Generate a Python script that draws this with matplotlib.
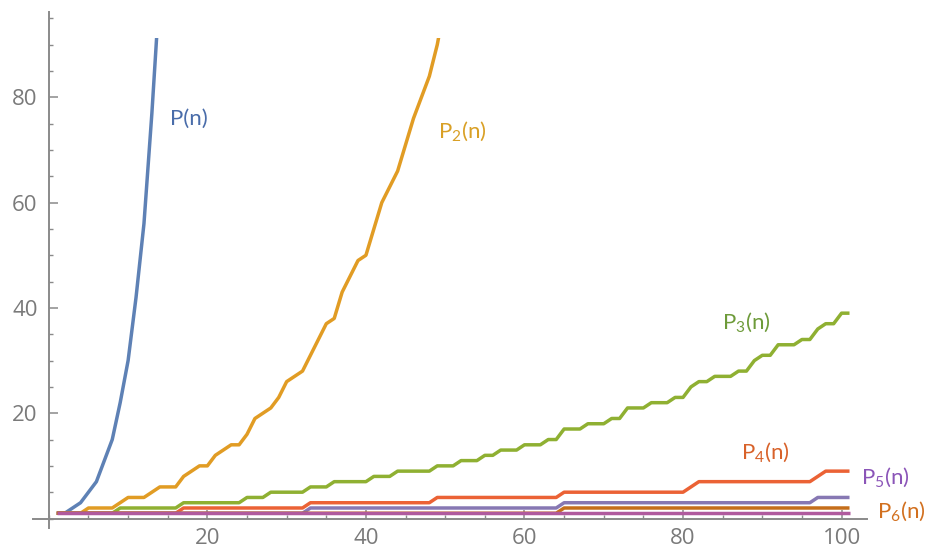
import matplotlib
matplotlib.use("Agg")
import matplotlib.pyplot as plt
from matplotlib.patches import Rectangle
from matplotlib.ticker import MultipleLocator

# partition counts, plotted at x = n + 1 (n = 0, 1, 2, ...)
p_all = [1, 1, 2, 3, 5, 7, 11, 15, 22, 30, 42, 56, 77, 101]
p_sq = [1, 1, 1, 1, 2, 2, 2, 2, 3, 4, 4, 4, 5, 6, 6, 6, 8, 9, 10, 10,
        12, 13, 14, 14, 16, 19, 20, 21, 23, 26, 27, 28, 31, 34, 37, 38, 43, 46, 49, 50,
        55, 60, 63, 66, 71, 76, 80, 84, 90, 98]
p_cube = [1] * 8 + [2] * 8 + [3] * 8 + [4] * 3 + [5] * 5 + [6] * 3 + [7] * 5 + [8] * 3 + \
         [9] * 5 + [10] * 3 + [11] * 3 + [12] * 2 + [13] * 3 + [14] * 3 + [15] * 2 + \
         [17] * 3 + [18] * 3 + [19] * 2 + [21] * 3 + [22] * 3 + [23] * 2 + [25] * 1 + \
         [26] * 2 + [27] * 3 + [28] * 2 + [30] * 1 + [31] * 2 + [33] * 3 + [34] * 2 + \
         [36] * 1 + [37] * 2 + [39] * 2
p_4th = [1] * 16 + [2] * 16 + [3] * 16 + [4] * 16 + [5] * 16 + [6] * 1 + [7] * 15 + [8] * 1 + [9] * 4
p_5th = [1] * 32 + [2] * 32 + [3] * 32 + [4] * 5
p_6th = [1] * 64 + [2] * 37
p_7th = [1] * 101

series = [p_all, p_sq, p_cube, p_4th, p_5th, p_6th, p_7th]
line_colors = ["#5E81B5", "#E19C24", "#8FB032", "#EB6235", "#8778B3", "#C56E1A", "#B05A9E"]

labels = ["P(n)", "P$_2$(n)", "P$_3$(n)", "P$_4$(n)", "P$_5$(n)", "P$_6$(n)"]
label_xy = [(15.3, 76.0), (49.1, 73.6), (84.9, 37.3), (87.3, 12.6), (102.5, 7.9), (104.5, 1.3)]
label_colors = ["#4A6DAA", "#D9A026", "#6E9B3A", "#D8622A", "#8B55B8", "#D2701F"]

plt.rcParams["font.family"] = ["Lato", "DejaVu Sans"]
plt.rcParams["mathtext.fontset"] = "custom"
plt.rcParams["mathtext.rm"] = "Lato"
plt.rcParams["mathtext.it"] = "Lato:italic"

fig = plt.figure(figsize=(9.29, 5.48), dpi=100)
ax = fig.add_axes([0.0355, 0.0365, 0.8977, 0.9416])
ax.set_xlim(-2, 103.2)
ax.set_ylim(-1.8, 96.2)

clip = Rectangle((-2, -2), 110, 93.3, transform=ax.transData)
for vals, c in zip(series, line_colors):
    xs = list(range(1, len(vals) + 1))
    ln, = ax.plot(xs, vals, color=c, lw=2.5, solid_joinstyle="round", solid_capstyle="butt")
    ln.set_clip_path(clip)

for txt, (x, y), c in zip(labels, label_xy, label_colors):
    ax.text(x, y, txt, color=c, fontsize=16, ha="left", va="center", clip_on=False)

for s in ["top", "right"]:
    ax.spines[s].set_visible(False)
ax.spines["left"].set_position(("data", 0))
ax.spines["bottom"].set_position(("data", 0))
for s in ["left", "bottom"]:
    ax.spines[s].set_color("#8a8a8a")
    ax.spines[s].set_linewidth(1.4)

ax.set_xticks([20, 40, 60, 80, 100])
ax.set_yticks([20, 40, 60, 80])
ax.xaxis.set_minor_locator(MultipleLocator(5))
ax.yaxis.set_minor_locator(MultipleLocator(5))
ax.tick_params(which="major", direction="in", length=6.5, width=1.1, color="#8a8a8a",
               labelsize=16, labelcolor="#7a7a7a")
ax.tick_params(which="minor", direction="in", length=3, width=1.0, color="#8a8a8a")
ax.tick_params(axis="y", which="major", pad=8)
ax.tick_params(axis="x", which="major", pad=7)
for t in ax.get_xticklabels() + ax.get_yticklabels():
    t.set_family(["Open Sans", "DejaVu Sans"])

fig.savefig("out.png", dpi=100)
